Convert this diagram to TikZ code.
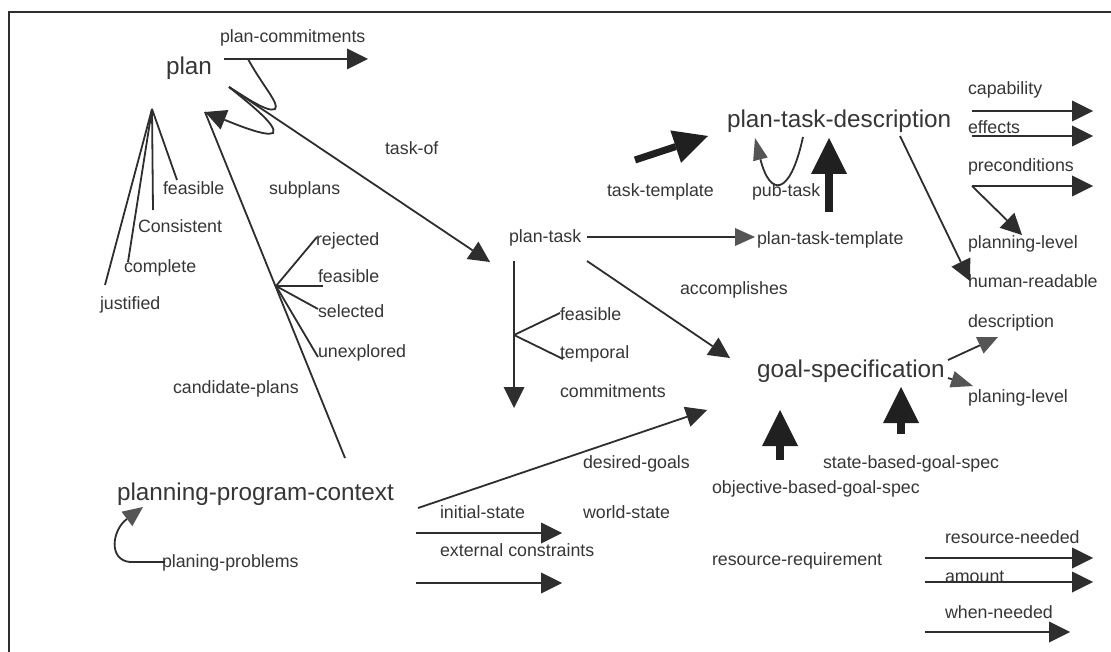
\documentclass[tikz,border=0pt]{standalone}
\usepackage{fontspec}
\setmainfont{Liberation Sans}
\usetikzlibrary{arrows.meta}
\definecolor{ink}{HTML}{2E2E2E}
\definecolor{txt}{HTML}{363636}
\definecolor{headgray}{HTML}{555555}
\definecolor{fatink}{HTML}{202020}

\begin{document}
\begin{tikzpicture}[x=1pt,y=-1pt,
  lbl/.style={inner sep=0pt, outer sep=0pt, anchor=base west, text=txt,
              font=\fontsize{17.8}{20}\selectfont},
  big/.style={inner sep=0pt, outer sep=0pt, anchor=base west, text=txt,
              font=\fontsize{24.3}{28}\selectfont},
  conn/.style={draw=ink, line width=1.8pt},
  arr/.style={conn, -{Triangle[length=21pt,width=21pt,line width=0pt]}},
  grayarr/.style={conn, -{Triangle[length=20pt,width=18pt,line width=0pt,fill=headgray]}},
  fatarr/.style={draw=fatink, line width=8pt,
                 -{Triangle[length=36pt,width=36pt,line width=0pt]}},
]
\useasboundingbox (0,0) rectangle (1111,652);
\fill[white] (0,0) rectangle (1111,652);

% frame
\draw[draw=ink, line width=1.6pt] (9,652) -- (9,12) -- (1111,12);

% ---------- main concepts ----------
\node[big] (plan) at (166,75) {plan};
\node[big] (ptd)  at (727,128) {plan-task-description};
\node[big] (goal) at (757,377) {goal-specification};
\node[big] (ppc)  at (117,500) {planning-program-context};

% ---------- slot labels ----------
\node[lbl] (l-pcommit) at (220,43)  {plan-commitments};
\node[lbl] (l-taskof)  at (385,155) {task-of};
\node[lbl] (l-feas1)   at (163,195) {feasible};
\node[lbl] (l-subpl)   at (269,195) {subplans};
\node[lbl] (l-cons)    at (138,233) {Consistent};
\node[lbl] (l-compl)   at (124,273) {complete};
\node[lbl] (l-just)    at (100,310) {justified};
\node[lbl] (l-rej)     at (316,246) {rejected};
\node[lbl] (l-feas2)   at (318,283) {feasible};
\node[lbl] (l-sel)     at (318,318) {selected};
\node[lbl] (l-unexp)   at (318,357) {unexplored};
\node[lbl] (l-cand)    at (173,393) {candidate-plans};
\node[lbl] (ptask)     at (509,243) {plan-task};
\node[lbl] (l-tt)      at (607,197) {task-template};
\node[lbl] (l-sub)     at (752,197) {pub-task};
\node[lbl] (ptt)       at (757,245) {plan-task-template};
\node[lbl] (l-acc)     at (680,295) {accomplishes};
\node[lbl] (l-feas3)   at (560,320) {feasible};
\node[lbl] (l-temp)    at (560,358) {temporal};
\node[lbl] (l-commit)  at (560,397) {commitments};
\node[lbl] (l-cap)     at (968,95)  {capability};
\node[lbl] (l-eff)     at (968,134) {effects};
\node[lbl] (l-pre)     at (968,172) {preconditions};
\node[lbl] (l-plev1)   at (968,249) {planning-level};
\node[lbl] (l-hr)      at (968,288) {human-readable};
\node[lbl] (l-desc)    at (968,327) {description};
\node[lbl] (l-plev2)   at (968,402) {planing-level};
\node[lbl] (l-dgoal)   at (583,468) {desired-goals};
\node[lbl] (l-sbgs)    at (823,468) {state-based-goal-spec};
\node[lbl] (l-obgs)    at (712,493) {objective-based-goal-spec};
\node[lbl] (l-init)    at (440,518) {initial-state};
\node[lbl] (l-world)   at (583,518) {world-state};
\node[lbl] (l-ext)     at (440,556) {external constraints};
\node[lbl] (rreq)      at (712,565) {resource-requirement};
\node[lbl] (l-prob)    at (162,567) {planing-problems};
\node[lbl] (l-rneed)   at (945,543) {resource-needed};
\node[lbl] (l-amt)     at (945,582) {amount};
\node[lbl] (l-when)    at (945,618) {when-needed};

% ---------- anchor points of the connectors ----------
\coordinate (pc-s)   at (224,59);
\coordinate (pc-e)   at (368,59);
\coordinate (pc-k)   at (248,59);
\coordinate (plan-r) at (229,87);
\coordinate (sub-t)  at (205,112);
\coordinate (task-t) at (490,262);
\coordinate (fan1)   at (152,109);
\coordinate (f1a)    at (177,180);
\coordinate (f1b)    at (153,210);
\coordinate (f1c)    at (128,262);
\coordinate (f1d)    at (105,285);
\coordinate (cand-b) at (345,458);
\coordinate (fan2)   at (276,286);
\coordinate (f2a)    at (317,237);
\coordinate (f2b)    at (323,286);
\coordinate (f2c)    at (318,309);
\coordinate (f2d)    at (318,357);
\coordinate (pt-r)   at (587,237);
\coordinate (ptt-l)  at (755,237);
\coordinate (pt-d)   at (514,261);
\coordinate (pt-e)   at (514,408);
\coordinate (fan3)   at (514,335);
\coordinate (f3a)    at (560,313);
\coordinate (f3b)    at (563,359);
\coordinate (pt-g)   at (587,261);
\coordinate (goal-t) at (730,358);
\coordinate (tt-s)   at (635,160);
\coordinate (tt-e)   at (708,136);
\coordinate (sub-s)  at (803,137);
\coordinate (sub-e)  at (755,138);
\coordinate (up-s)   at (829,212);
\coordinate (up-e)   at (829,138);
\coordinate (ptd-r)  at (900,136);
\coordinate (hr-t)   at (970,281);
\coordinate (cap-s)  at (972,111);
\coordinate (cap-e)  at (1093,111);
\coordinate (eff-s)  at (972,136);
\coordinate (eff-e)  at (1093,136);
\coordinate (pre-s)  at (972,186);
\coordinate (pre-e)  at (1093,186);
\coordinate (plev-t) at (1022,235);
\coordinate (goal-r1) at (948,360);
\coordinate (desc-t) at (998,337);
\coordinate (goal-r2) at (948,378);
\coordinate (plev2-t) at (973,386);
\coordinate (ob-s)   at (780,460);
\coordinate (ob-e)   at (780,410);
\coordinate (sb-s)   at (901,434);
\coordinate (sb-e)   at (901,387);
\coordinate (dg-s)   at (418,508);
\coordinate (dg-e)   at (707,410);
\coordinate (is-s)   at (416,533);
\coordinate (is-e)   at (562,533);
\coordinate (ec-s)   at (416,583);
\coordinate (ec-e)   at (562,583);
\coordinate (rn-s)   at (925,558);
\coordinate (rn-e)   at (1093,558);
\coordinate (am-s)   at (925,582);
\coordinate (am-e)   at (1093,582);
\coordinate (wn-s)   at (925,632);
\coordinate (wn-e)   at (1070,632);
\coordinate (pp-s)   at (165,562);
\coordinate (pp-k)   at (130,562);
\coordinate (pp-e)   at (143,507);

% ---------- plan ----------
\draw[arr]  (pc-s) -- (pc-e);
% narrow self-loops on the right of "plan"
\draw[conn] (pc-k) .. controls (262,85) and (280,104) .. (275,109)
                   .. controls (268,113) and (245,97) .. (plan-r);
\draw[arr]  (plan-r) .. controls (250,104) and (278,126) .. (273,133)
                     .. controls (266,137) and (235,124) .. (sub-t);
\draw[arr]  (plan-r) -- (task-t);
\foreach \e in {f1a,f1b,f1c,f1d} \draw[conn] (fan1) -- (\e);
\draw[conn] (cand-b) -- (sub-t);
\foreach \e in {f2a,f2b,f2c,f2d} \draw[conn] (fan2) -- (\e);

% ---------- plan-task ----------
\draw[grayarr] (pt-r) -- (ptt-l);
\draw[arr]  (pt-d) -- (pt-e);
\foreach \e in {f3a,f3b} \draw[conn] (fan3) -- (\e);
\draw[arr]  (pt-g) -- (goal-t);

% ---------- plan-task-description ----------
\draw[draw=fatink, line width=7pt, -{Triangle[length=34pt,width=34pt,line width=0pt]}] (tt-s) -- (tt-e);
\draw[conn, -{Triangle[length=22pt,width=15pt,line width=0pt,fill=headgray]}]
  (sub-s) .. controls (790,197) and (770,197) .. (sub-e);
\draw[fatarr] (up-s) -- (up-e);
\draw[arr]  (ptd-r) -- (hr-t);
\draw[arr]  (cap-s) -- (cap-e);
\draw[arr]  (eff-s) -- (eff-e);
\draw[arr]  (pre-s) -- (pre-e);
\draw[arr]  (pre-s) -- (plev-t);

% ---------- goal-specification ----------
\draw[grayarr] (goal-r1) -- (desc-t);
\draw[conn, -{Triangle[length=22pt,width=17pt,line width=0pt,fill=headgray]}] (goal-r2) -- (plev2-t);
\draw[fatarr] (ob-s) -- (ob-e);
\draw[fatarr] (sb-s) -- (sb-e);

% ---------- planning-program-context ----------
\draw[arr]  (dg-s) -- (dg-e);
\draw[arr]  (is-s) -- (is-e);
\draw[arr]  (ec-s) -- (ec-e);
\draw[grayarr] (pp-s) -- (pp-k) .. controls (108,560) and (112,530) .. (pp-e);

% ---------- resource-requirement ----------
\draw[arr]  (rn-s) -- (rn-e);
\draw[arr]  (am-s) -- (am-e);
\draw[arr]  (wn-s) -- (wn-e);
\end{tikzpicture}
\end{document}
